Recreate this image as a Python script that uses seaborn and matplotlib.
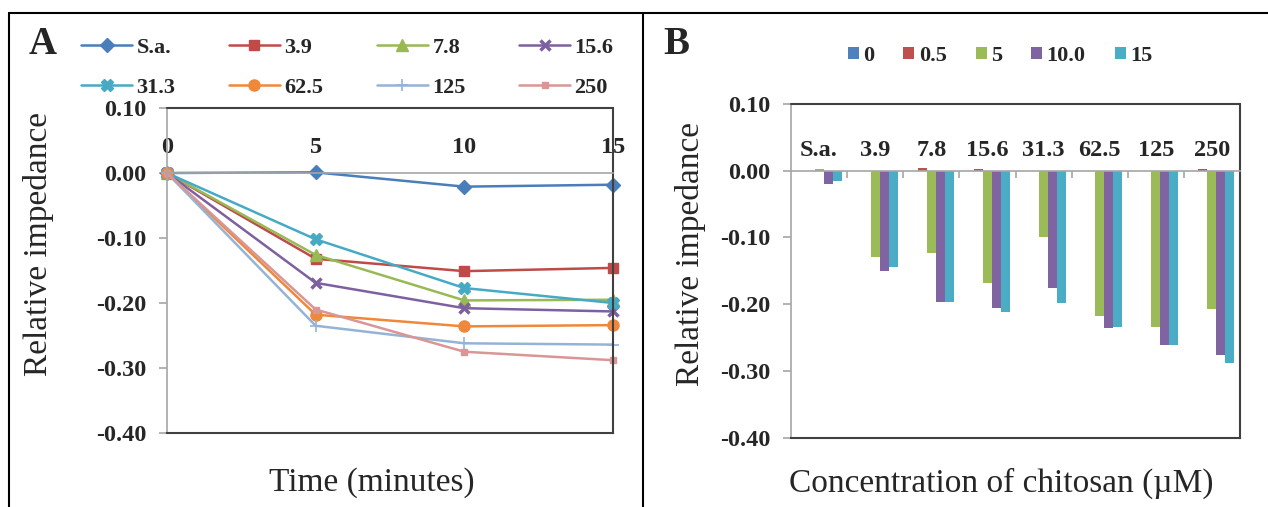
import matplotlib
matplotlib.use("Agg")
import matplotlib.pyplot as plt
import seaborn as sns
import pandas as pd
from matplotlib.lines import Line2D
from matplotlib.ticker import FormatStrFormatter, FixedLocator

# ---- Panel A: relative impedance over time ----
times = [0, 5, 10, 15]
series_names = ["S.a.", "3.9", "7.8", "15.6", "31.3", "62.5", "125", "250"]
sa = [0.0, 0.001, -0.021, -0.018]
c3_9 = [0.0, -0.132, -0.151, -0.146]
c7_8 = [0.0, -0.126, -0.196, -0.195]
c15_6 = [0.0, -0.169, -0.208, -0.213]
c31_3 = [0.0, -0.102, -0.177, -0.200]
c62_5 = [0.0, -0.218, -0.236, -0.234]
c125 = [0.0, -0.235, -0.262, -0.264]
c250 = [0.0, -0.210, -0.275, -0.288]

# ---- Panel B: bars per chitosan concentration ----
conc_labels = ["S.a.", "3.9", "7.8", "15.6", "31.3", "62.5", "125", "250"]
time_labels = ["0", "0.5", "5", "10.0", "15"]
b_t0 = [0.0, 0.0, 0.0, 0.0, 0.0, 0.0, 0.0, 0.0]
b_t05 = [0.0, 0.0, 0.004, 0.002, 0.0, 0.0, 0.0, 0.003]
b_t5 = [0.003, -0.129, -0.124, -0.168, -0.100, -0.218, -0.235, -0.208]
b_t10 = [-0.020, -0.150, -0.197, -0.206, -0.176, -0.236, -0.262, -0.276]
b_t15 = [-0.016, -0.145, -0.197, -0.212, -0.199, -0.234, -0.262, -0.289]

sns.set_style("white")
plt.rcParams['font.family'] = ['Liberation Serif', 'DejaVu Serif']

W, H = 1268, 507
fig = plt.figure(figsize=(W / 100, H / 100), dpi=100)

line_styles = {
    "S.a.": ("#4A7EBB", "D", 7, 1.0),
    "3.9": ("#BE4B48", "s", 7, 1.0),
    "7.8": ("#98B954", "^", 8, 1.0),
    "15.6": ("#7D60A0", "x", 7, 2.5),
    "31.3": ("#46AAC5", "X", 8, 1.0),
    "62.5": ("#F0883A", "o", 8, 1.0),
    "125": ("#95B3D7", "+", 8, 1.2),
    "250": ("#D99694", "s", 4, 1.0),
}
series_vals = [sa, c3_9, c7_8, c15_6, c31_3, c62_5, c125, c250]

dark = "#404040"
grey = "#A6A6A6"


def style_axes(ax, xpad):
    ax.set_ylim(-0.4, 0.1)
    ax.yaxis.set_major_locator(FixedLocator([-0.4, -0.3, -0.2, -0.1, 0.0, 0.1]))
    ax.yaxis.set_major_formatter(FormatStrFormatter('%.2f'))
    ax.spines['left'].set_color(grey)
    ax.spines['left'].set_linewidth(1.2)
    for s in ['right', 'bottom']:
        ax.spines[s].set_color(dark)
        ax.spines[s].set_linewidth(1.5)
    ax.spines['top'].set_position(('data', 0))
    ax.spines['top'].set_color(grey)
    ax.spines['top'].set_linewidth(1.2)
    ax.axhline(0.1, color=dark, lw=1.5, clip_on=False, zorder=5)
    ax.xaxis.tick_top()
    ax.xaxis.set_label_position('bottom')
    ax.tick_params(axis='y', direction='out', length=6, width=1.2, color=grey,
                   pad=9, left=True)
    ax.tick_params(axis='x', which='major', length=0, pad=xpad)
    for lab in ax.get_yticklabels() + ax.get_xticklabels():
        lab.set_fontweight('bold')
        lab.set_fontsize(17.5)
    ax.grid(False)


# Panel A
axA = fig.add_axes([167 / W, 1 - 433 / H, 446 / W, 325 / H])
for name, vals in zip(series_names, series_vals):
    col, mk, ms, mew = line_styles[name]
    sns.lineplot(x=times, y=vals, color=col, marker=mk, markersize=ms,
                 markeredgewidth=mew, markeredgecolor=col, linewidth=1.8,
                 label=name, ax=axA, clip_on=False)
axA.set_xlim(0, 15)
axA.set_xticks(times)
style_axes(axA, 11)
handles, labels = axA.get_legend_handles_labels()
if axA.get_legend():
    axA.get_legend().remove()
axA.set_xlabel("Time (minutes)", fontsize=24)
axA.xaxis.set_label_coords(0.46, -0.105)
axA.set_ylabel("Relative impedance", fontsize=24)
axA.yaxis.set_label_coords(-0.253, 0.58)

# legend fills column-wise, so interleave the two rows
order = [0, 4, 1, 5, 2, 6, 3, 7]
fig.legend([handles[i] for i in order], [labels[i] for i in order],
           ncol=4, loc='upper left', bbox_to_anchor=(81 / W, 1 - 37 / H),
           frameon=False, prop={'weight': 'bold', 'size': 16},
           handlelength=2.3, columnspacing=2.4, handletextpad=0.2,
           labelspacing=0.9, borderpad=0, borderaxespad=0)

# Panel B
rows = []
for t, vals in zip(time_labels, [b_t0, b_t05, b_t5, b_t10, b_t15]):
    for c, v in zip(conc_labels, vals):
        rows.append({'conc': c, 'time': t, 'value': v})
df = pd.DataFrame(rows)

bar_colors = dict(zip(time_labels, ["#4F81BD", "#C0504D", "#9BBB59", "#8064A2", "#4BACC6"]))
axB = fig.add_axes([791 / W, 1 - 437.5 / H, 449 / W, 333.5 / H])
sns.barplot(data=df, x='conc', y='value', hue='time', order=conc_labels,
            hue_order=time_labels, palette=bar_colors, saturation=1,
            width=0.8, errorbar=None, linewidth=0, ax=axB)
axB.set_xlim(-0.5, len(conc_labels) - 0.5)
style_axes(axB, 7)
axB.xaxis.set_minor_locator(FixedLocator([i + 0.5 for i in range(len(conc_labels) - 1)]))
axB.tick_params(axis='x', which='minor', direction='in', length=5, width=1.2,
                color=grey, top=True)
hB, lB = axB.get_legend_handles_labels()
if axB.get_legend():
    axB.get_legend().remove()
axB.set_xlabel("Concentration of chitosan (\u00b5M)", fontsize=24)
axB.xaxis.set_label_coords(0.468, -0.09)
axB.set_ylabel("Relative impedance", fontsize=24)
axB.yaxis.set_label_coords(-0.19, 0.55)

fig.legend(hB, lB, ncol=5, loc='center', bbox_to_anchor=(1000 / W, 1 - 56 / H),
           frameon=False, prop={'weight': 'bold', 'size': 16},
           handlelength=0.5, handleheight=0.5, handletextpad=0.2,
           columnspacing=1.3, borderpad=0, borderaxespad=0)

# panel letters
fig.text(29 / W, 1 - 45 / H, "A", fontsize=28, fontweight='bold', va='center', ha='left')
fig.text(663 / W, 1 - 45 / H, "B", fontsize=28, fontweight='bold', va='center', ha='left')

# outer frame and divider
top = 1 - 13 / H
fig.add_artist(Line2D([9 / W, 1], [top, top], transform=fig.transFigure, color='black', lw=1.5))
fig.add_artist(Line2D([9 / W, 9 / W], [0, top], transform=fig.transFigure, color='black', lw=1.5))
fig.add_artist(Line2D([643 / W, 643 / W], [0, top], transform=fig.transFigure, color='black', lw=1.5))

fig.savefig("out.png", dpi=100)
